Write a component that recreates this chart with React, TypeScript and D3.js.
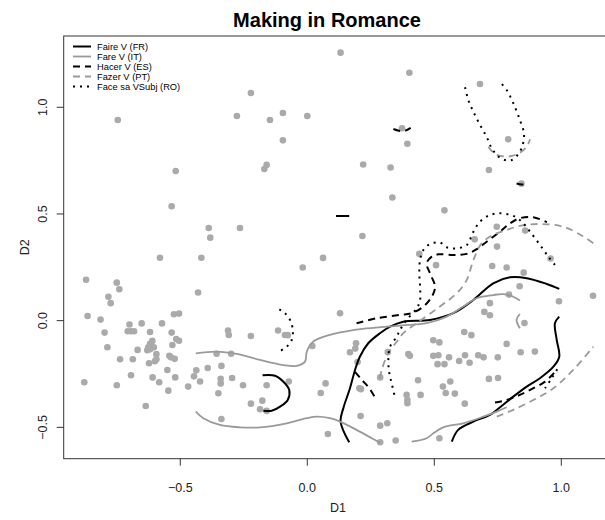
import React from 'react';
import * as d3 from 'd3';

type P = [number, number];

const title = 'Making in Romance';
const xLabel = 'D1';
const yLabel = 'D2';
const xTicks = [-0.5, 0, 0.5, 1.0];
const yTicks = [-0.5, 0, 0.5, 1.0];
const seriesNames = ['Faire V (FR)', 'Fare V (IT)', 'Hacer V (ES)', 'Fazer V (PT)', 'Face sa VSubj (RO)'];

const points: P[] = [
  [-0.746, 0.940], [-0.222, 1.067], [-0.277, 0.959], [-0.147, 0.940], [-0.096, 0.973], [0.000, 0.959], [-0.096, 0.845], [-0.160, 0.730], [-0.169, 0.711], [-0.518, 0.701], [-0.534, 0.536],
  [0.131, 1.256], [0.402, 1.162], [0.680, 1.109], [0.373, 0.902], [0.394, 0.829], [0.791, 0.850], [0.220, 0.732], [0.328, 0.718], [0.715, 0.706], [0.843, 0.642], [0.335, 0.577], [0.540, 0.517],
  [0.217, 0.397], [0.062, 0.294], [-0.018, 0.249], [0.441, 0.313], [0.659, 0.381], [0.746, 0.440], [0.858, 0.422], [0.747, 0.347], [0.507, 0.260], [0.728, 0.256], [0.785, 0.249], [0.852, 0.225], [0.958, 0.291],
  [0.836, 0.161], [0.794, 0.122], [0.991, 0.091], [1.125, 0.117], [0.719, 0.082], [0.697, 0.041], [0.719, 0.025], [0.855, -0.011], [0.129, 0.035],
  [0.618, -0.053], [0.646, -0.068], [0.496, -0.092], [0.520, -0.102], [0.192, -0.106], [0.189, -0.131], [0.168, -0.148], [0.020, -0.119], [0.785, -0.109], [0.840, -0.148], [0.896, -0.145],
  [0.398, -0.156], [0.404, -0.165], [0.317, -0.147], [0.496, -0.165], [0.516, -0.162], [0.558, -0.172], [0.621, -0.162], [0.673, -0.162], [0.694, -0.172], [0.750, -0.172],
  [0.198, -0.194], [0.513, -0.204], [0.540, -0.204], [0.598, -0.189], [0.639, -0.197],
  [0.072, -0.294], [0.053, -0.339], [0.205, -0.317], [0.211, -0.321], [0.287, -0.266], [0.436, -0.279], [0.563, -0.285], [0.534, -0.309], [0.715, -0.273], [0.751, -0.269],
  [0.545, -0.339], [0.581, -0.342], [0.391, -0.348], [0.394, -0.372], [0.394, -0.387], [0.446, -0.348], [0.620, -0.389], [0.210, -0.447], [0.287, -0.492], [0.315, -0.481], [0.081, -0.531], [0.287, -0.570], [0.348, -0.562], [0.520, -0.551],
  [-0.878, -0.289], [-0.750, -0.303], [-0.583, -0.289], [-0.547, -0.328], [-0.469, -0.309], [-0.422, -0.285], [-0.341, -0.294], [-0.350, -0.340], [-0.253, -0.303], [-0.160, -0.303], [-0.636, -0.400], [-0.222, -0.389], [-0.177, -0.375], [-0.186, -0.415], [-0.160, -0.423], [-0.338, -0.461], [-0.073, -0.285],
  [-0.871, 0.192], [-0.750, 0.178], [-0.740, 0.147], [-0.783, 0.112], [-0.774, 0.082], [-0.865, 0.022], [-0.814, 0.005], [-0.798, -0.056], [-0.787, -0.125], [-0.737, -0.181], [-0.700, -0.018], [-0.707, -0.050], [-0.694, -0.050], [-0.682, -0.050], [-0.652, -0.013], [-0.619, -0.053], [-0.572, -0.013], [-0.525, 0.030], [-0.505, 0.033], [-0.430, 0.132], [-0.534, -0.056], [-0.516, -0.086], [-0.505, -0.094], [-0.531, -0.114], [-0.610, -0.095], [-0.619, -0.109], [-0.626, -0.125], [-0.613, -0.125], [-0.604, -0.125], [-0.630, -0.139], [-0.619, -0.134], [-0.668, -0.137], [-0.594, -0.157], [-0.594, -0.181], [-0.600, -0.190], [-0.623, -0.200], [-0.687, -0.181], [-0.543, -0.165], [-0.537, -0.172], [-0.522, -0.179], [-0.551, -0.231], [-0.694, -0.256], [-0.609, -0.266], [-0.520, -0.266], [-0.437, -0.233], [-0.446, -0.261],
  [-0.388, 0.434], [-0.382, 0.389], [-0.265, 0.434], [-0.580, 0.295], [-0.417, 0.295], [-0.312, -0.046], [-0.309, -0.067], [-0.222, -0.072], [-0.357, -0.155], [-0.300, -0.155], [-0.338, -0.212], [-0.392, -0.222], [-0.341, -0.272], [-0.296, -0.269], [-0.115, -0.046], [-0.088, -0.067], [-0.077, -0.068],
];

// Faire V (FR)
const curveFR: P[][] = [
  [[0.113, 0.491], [0.165, 0.491]],
  [[0.165, -0.570], [0.131, -0.473], [0.142, -0.410], [0.168, -0.317], [0.188, -0.231], [0.207, -0.169], [0.240, -0.106], [0.286, -0.059], [0.326, -0.028], [0.378, -0.005], [0.483, 0.003], [0.575, 0.035], [0.654, 0.097], [0.732, 0.175], [0.798, 0.203], [0.864, 0.199], [0.943, 0.172], [0.992, 0.149]],
  [[0.992, 0.019], [0.975, -0.012], [0.982, -0.090], [0.992, -0.169], [0.969, -0.216], [0.916, -0.270], [0.864, -0.309], [0.811, -0.356], [0.759, -0.406], [0.719, -0.442], [0.654, -0.473], [0.594, -0.512], [0.569, -0.567]],
  [[-0.176, -0.256], [-0.127, -0.258], [-0.094, -0.286], [-0.071, -0.325], [-0.077, -0.372], [-0.107, -0.403], [-0.140, -0.422], [-0.173, -0.422]],
];

// Fare V (IT)
const curveIT: P[][] = [
  [[-0.439, -0.153], [-0.357, -0.145], [-0.278, -0.156], [-0.186, -0.184], [-0.094, -0.208], [-0.042, -0.212], [-0.009, -0.192], [-0.002, -0.145], [0.024, -0.098], [0.089, -0.067], [0.181, -0.044], [0.365, -0.023], [0.470, -0.012], [0.549, 0.019], [0.614, 0.066], [0.667, 0.105], [0.732, 0.120], [0.772, 0.124], [0.811, 0.112], [0.837, 0.094]],
  [[0.837, 0.031], [0.824, 0.003], [0.837, -0.036]],
  [[-0.439, -0.426], [-0.409, -0.457], [-0.344, -0.489], [-0.265, -0.500], [-0.186, -0.500], [-0.081, -0.481], [-0.002, -0.457], [0.037, -0.450], [0.089, -0.457], [0.129, -0.473], [0.194, -0.512], [0.254, -0.551], [0.286, -0.572]],
  [[0.411, -0.567], [0.470, -0.551], [0.496, -0.528], [0.535, -0.500], [0.614, -0.481], [0.693, -0.450], [0.746, -0.426], [0.785, -0.406]],
];

// Hacer V (ES)
const curveES: P[][] = [
  [[0.194, -0.012], [0.273, 0.011], [0.365, 0.027], [0.411, 0.035], [0.457, 0.066], [0.490, 0.112], [0.503, 0.159], [0.483, 0.222], [0.470, 0.269], [0.490, 0.300], [0.516, 0.311], [0.575, 0.308], [0.628, 0.313], [0.667, 0.335], [0.706, 0.370], [0.759, 0.417], [0.798, 0.456], [0.837, 0.480], [0.890, 0.485], [0.943, 0.461]],
  [[0.188, -0.240], [0.215, -0.278], [0.243, -0.315], [0.270, -0.367]],
  [[0.739, -0.384], [0.785, -0.372], [0.837, -0.348], [0.883, -0.321], [0.936, -0.286], [0.982, -0.231]],
  [[0.339, 0.898], [0.361, 0.890], [0.385, 0.890], [0.407, 0.903]],
  [[0.824, 0.643], [0.845, 0.638], [0.865, 0.641]],
];

// Fazer V (PT)
const curvePT: P[][] = [
  [[0.286, -0.270], [0.293, -0.231], [0.319, -0.153], [0.358, -0.090], [0.378, -0.059], [0.431, -0.012], [0.522, 0.066], [0.588, 0.128], [0.628, 0.191], [0.654, 0.284], [0.687, 0.363], [0.732, 0.402], [0.785, 0.425], [0.837, 0.444], [0.916, 0.453], [1.008, 0.440], [1.087, 0.394], [1.126, 0.363]],
  [[0.746, -0.450], [0.811, -0.418], [0.890, -0.372], [0.969, -0.317], [1.047, -0.231], [1.126, -0.122]],
  [[0.713, 0.815], [0.739, 0.781], [0.791, 0.769], [0.837, 0.787], [0.864, 0.815], [0.877, 0.850]],
];

// Face sa VSubj (RO)
const curveRO: P[][] = [
  [[0.975, 0.261], [0.949, 0.300], [0.916, 0.355], [0.877, 0.417], [0.844, 0.464], [0.811, 0.491], [0.759, 0.503], [0.719, 0.495], [0.680, 0.464], [0.654, 0.417], [0.628, 0.355], [0.588, 0.339], [0.549, 0.344], [0.522, 0.366], [0.483, 0.359], [0.457, 0.331], [0.444, 0.284], [0.441, 0.222], [0.444, 0.159], [0.444, 0.097], [0.431, 0.058], [0.391, 0.003], [0.365, -0.044], [0.352, -0.075], [0.326, -0.122], [0.319, -0.184], [0.323, -0.246], [0.332, -0.293], [0.343, -0.348]],
  [[-0.110, 0.053], [-0.088, 0.035], [-0.068, 0.003], [-0.057, -0.044], [-0.061, -0.090], [-0.081, -0.122], [-0.111, -0.145]],
  [[0.621, 1.094], [0.634, 1.034], [0.654, 0.979], [0.680, 0.917], [0.706, 0.862], [0.726, 0.808], [0.752, 0.769], [0.778, 0.753], [0.805, 0.753], [0.831, 0.781], [0.848, 0.823], [0.853, 0.878], [0.837, 0.940], [0.811, 1.019], [0.785, 1.081], [0.763, 1.112]],
  [[0.984, -0.228], [0.962, -0.270], [0.936, -0.317]],
];

const curves = [curveFR, curveIT, curveES, curvePT, curveRO];

const FONT = 'Liberation Sans, Arial, Helvetica, sans-serif';

export default function App() {
  const left = 63.7, right = 613.1, top = 36, bottom = 458.7;
  const x = d3.scaleLinear().domain([-0.959, 1.204]).range([left, right]);
  const y = d3.scaleLinear().domain([-0.647, 1.334]).range([bottom, top]);
  const line = d3
    .line<P>()
    .x((d) => x(d[0]))
    .y((d) => y(d[1]))
    .curve(d3.curveCatmullRom.alpha(0.5));
  const fmt = d3.format('.1f');

  const styles = [
    { color: '#000000', width: 2, dash: undefined as string | undefined },
    { color: '#9a9a9a', width: 1.8, dash: undefined },
    { color: '#000000', width: 2, dash: '7,5' },
    { color: '#9a9a9a', width: 1.8, dash: '7,5' },
    { color: '#000000', width: 2, dash: '2,5' },
  ];

  return (
    <svg
      width={605}
      height={520}
      style={{ position: 'absolute', left: 0, top: 0, background: '#fff' }}
      fontFamily={FONT}
    >
      <defs>
        <clipPath id="plotClip">
          <rect x={left} y={top} width={right - left} height={bottom - top} />
        </clipPath>
      </defs>
      <rect x={0} y={0} width={605} height={520} fill="#fff" />
      <text x={327} y={27} textAnchor="middle" fontSize={20} fontWeight="bold" fill="#000">
        {title}
      </text>

      <g clipPath="url(#plotClip)">
        {points.map((p, i) => (
          <circle key={i} cx={x(p[0])} cy={y(p[1])} r={3.3} fill="#aaaaaa" />
        ))}
        {curves.map((segs, si) =>
          segs.map((seg, k) => (
            <path
              key={si + '-' + k}
              d={line(seg) || ''}
              fill="none"
              stroke={styles[si].color}
              strokeWidth={styles[si].width}
              strokeDasharray={styles[si].dash}
              strokeLinejoin="round"
            />
          ))
        )}
      </g>

      <rect x={left} y={top} width={right - left} height={bottom - top} fill="none" stroke="#333" strokeWidth={1} />

      {xTicks.map((t) => (
        <g key={'x' + t}>
          <line x1={x(t)} x2={x(t)} y1={bottom} y2={bottom + 7} stroke="#333" />
          <text x={x(t)} y={492} textAnchor="middle" fontSize={12.5} fill="#222">
            {fmt(t)}
          </text>
        </g>
      ))}
      {yTicks.map((t) => (
        <g key={'y' + t}>
          <line x1={left - 7} x2={left} y1={y(t)} y2={y(t)} stroke="#333" />
          <text
            transform={`translate(${46.5},${y(t)}) rotate(-90)`}
            textAnchor="middle"
            fontSize={12.5}
            fill="#222"
          >
            {fmt(t)}
          </text>
        </g>
      ))}
      <text x={338} y={512} textAnchor="middle" fontSize={12.5} fill="#222">
        {xLabel}
      </text>
      <text transform={`translate(${29},${(top + bottom) / 2}) rotate(-90)`} textAnchor="middle" fontSize={12.5} fill="#222">
        {yLabel}
      </text>

      {seriesNames.map((n, i) => (
        <g key={n}>
          <line
            x1={73}
            x2={91}
            y1={46.5 + i * 10}
            y2={46.5 + i * 10}
            stroke={styles[i].color}
            strokeWidth={styles[i].width}
            strokeDasharray={styles[i].dash}
          />
          <text x={97} y={46.5 + i * 10 + 3.3} fontSize={9.3} fill="#000">
            {n}
          </text>
        </g>
      ))}
    </svg>
  );
}
